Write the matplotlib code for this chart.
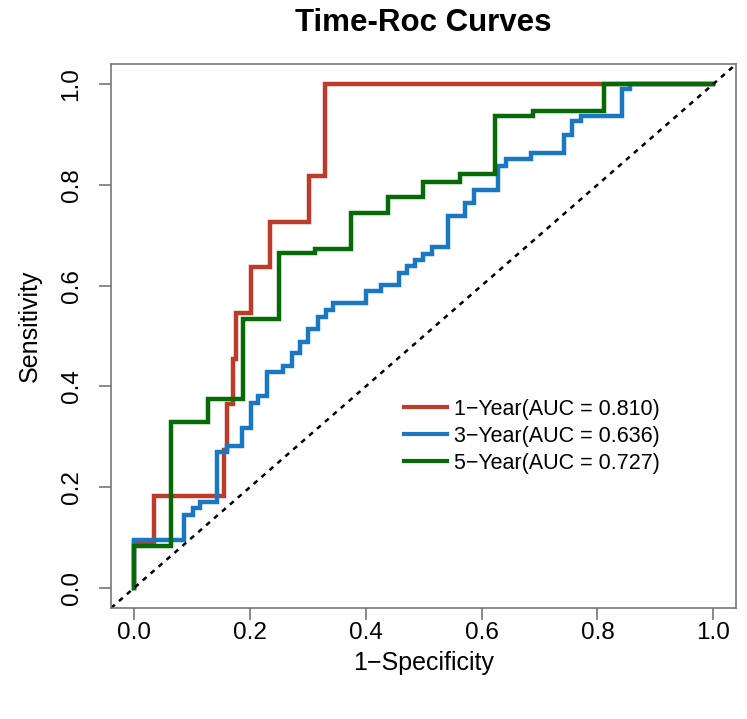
import matplotlib
matplotlib.use("Agg")
import matplotlib.pyplot as plt
from matplotlib.lines import Line2D

plt.rcParams['font.family'] = ['Liberation Sans', 'DejaVu Sans']

# ROC step corners (1-specificity, sensitivity)
fpr_1y = [0, 0, 0.034, 0.155, 0.161, 0.170, 0.175, 0.2016, 0.235, 0.302, 0.329, 1.0]
tpr_1y = [0, 0.091, 0.182, 0.273, 0.364, 0.455, 0.545, 0.636, 0.727, 0.818, 1.0, 1.0]

fpr_3y = [0, 0, 0.086, 0.101, 0.113, 0.143, 0.160, 0.187, 0.201, 0.214, 0.229,
          0.257, 0.272, 0.286, 0.301, 0.318, 0.331, 0.344, 0.400, 0.427, 0.457,
          0.472, 0.485, 0.499, 0.514, 0.542, 0.572, 0.587, 0.628, 0.642, 0.685,
          0.743, 0.757, 0.771, 0.842, 0.856, 1.0]
tpr_3y = [0, 0.095, 0.145, 0.158, 0.171, 0.269, 0.281, 0.317, 0.367, 0.380, 0.428,
          0.441, 0.466, 0.489, 0.514, 0.538, 0.552, 0.565, 0.590, 0.602, 0.626,
          0.638, 0.651, 0.663, 0.677, 0.739, 0.764, 0.789, 0.838, 0.851, 0.863,
          0.900, 0.926, 0.937, 0.990, 1.0, 1.0]

fpr_5y = [0, 0, 0.063, 0.127, 0.188, 0.250, 0.312, 0.374, 0.439, 0.499, 0.563,
          0.624, 0.688, 0.811, 1.0]
tpr_5y = [0, 0.084, 0.329, 0.375, 0.534, 0.665, 0.673, 0.744, 0.776, 0.806, 0.822,
          0.937, 0.946, 1.0, 1.0]

labels = ['1\u2212Year(AUC = 0.810)', '3\u2212Year(AUC = 0.636)', '5\u2212Year(AUC = 0.727)']
colors = ['#BC3C29', '#1A78C2', '#066A06']
ticks = [0.0, 0.2, 0.4, 0.6, 0.8, 1.0]

fig = plt.figure(figsize=(7.47, 7.19), dpi=100)
ax = fig.add_axes([0.1487, 0.1544, 0.837, 0.7566])

curves = [(fpr_1y, tpr_1y), (fpr_3y, tpr_3y), (fpr_5y, tpr_5y)]
for (fx, ty), c in zip(curves, colors):
    ax.step(fx, ty, where='post', color=c, lw=3.2, solid_joinstyle='miter')

ax.axline((0, 0), (1, 1), color='black', lw=1.8, ls=(0, (2, 2.2)))

ax.set_xlim(-0.04, 1.04)
ax.set_ylim(-0.04, 1.04)
ax.set_xticks(ticks)
ax.set_yticks(ticks)
ax.set_xticklabels(['%.1f' % t for t in ticks])
ax.set_yticklabels(['%.1f' % t for t in ticks], rotation=90, va='center')

for s in ax.spines.values():
    s.set_color('#777777')
    s.set_linewidth(1.2)
ax.tick_params(axis='both', color='#777777', width=1.2, length=8.5, labelsize=17.5)
ax.tick_params(axis='x', pad=1.5)
ax.tick_params(axis='y', pad=12)

fig.text(0.567, 0.968, 'Time-Roc Curves', ha='center', va='center',
         fontsize=22.5, fontweight='bold')
fig.text(0.567, 0.078, '1\u2212Specificity', ha='center', va='center', fontsize=18)
fig.text(0.040, 0.547, 'Sensitivity', ha='center', va='center', rotation=90, fontsize=18)

handles = [Line2D([], [], color=c, lw=3) for c in colors]
ax.legend(handles, labels, loc='center left', bbox_to_anchor=(0.468, 0.316),
          frameon=False, fontsize=15.5, handlelength=2.0, handletextpad=0.35,
          labelspacing=0.28, borderpad=0, borderaxespad=0)

fig.savefig('out.png', dpi=100)
